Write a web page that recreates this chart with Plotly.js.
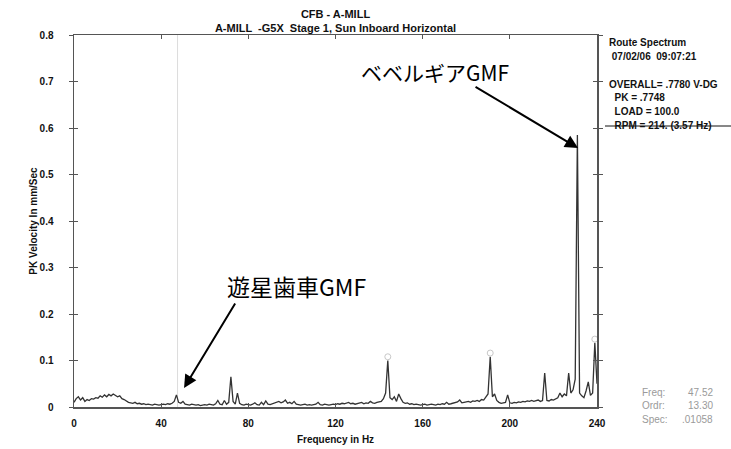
<!DOCTYPE html>
<html><head><meta charset="utf-8">
<script src="https://cdn.plot.ly/plotly-3.0.1.min.js"></script>
<style>html,body{margin:0;padding:0;background:#fff}#chart{width:731px;height:449px}</style>
</head><body><div id="chart"></div>
<script>
// Frequency (Hz) and PK velocity (mm/Sec)
const freqStart = 0, freqStep = 1;
const velocity = [
0.010,0.018,0.022,0.015,0.020,0.012,0.016,0.014,0.018,0.017,
0.020,0.019,0.024,0.021,0.026,0.022,0.027,0.024,0.028,0.025,
0.022,0.024,0.018,0.016,0.012,0.010,0.009,0.008,0.010,0.007,
0.008,0.006,0.007,0.005,0.006,0.005,0.004,0.006,0.005,0.004,
0.005,0.006,0.005,0.007,0.006,0.008,0.012,0.026,0.010,0.008,
0.012,0.006,0.005,0.004,0.006,0.005,0.004,0.005,0.003,0.004,
0.005,0.004,0.006,0.005,0.004,0.007,0.014,0.006,0.005,0.014,
0.006,0.010,0.065,0.012,0.006,0.030,0.008,0.005,0.004,0.006,
0.005,0.004,0.006,0.009,0.005,0.004,0.010,0.005,0.013,0.006,
0.005,0.007,0.008,0.010,0.012,0.009,0.011,0.015,0.008,0.010,
0.007,0.012,0.006,0.005,0.004,0.005,0.006,0.004,0.005,0.004,
0.005,0.006,0.010,0.005,0.004,0.006,0.005,0.004,0.005,0.006,
0.005,0.007,0.006,0.008,0.007,0.009,0.010,0.007,0.008,0.006,
0.007,0.008,0.010,0.007,0.009,0.008,0.012,0.009,0.008,0.010,
0.011,0.012,0.018,0.030,0.100,0.020,0.016,0.022,0.012,0.028,
0.018,0.010,0.008,0.009,0.006,0.007,0.005,0.006,0.005,0.004,
0.005,0.006,0.004,0.005,0.006,0.005,0.004,0.006,0.005,0.007,
0.006,0.010,0.006,0.007,0.008,0.009,0.011,0.015,0.009,0.010,
0.011,0.012,0.010,0.013,0.012,0.014,0.012,0.016,0.015,0.022,
0.028,0.108,0.022,0.028,0.014,0.010,0.008,0.009,0.010,0.026,
0.009,0.008,0.010,0.009,0.011,0.010,0.012,0.011,0.013,0.012,
0.014,0.012,0.013,0.015,0.012,0.014,0.073,0.014,0.013,0.016,
0.015,0.018,0.020,0.030,0.022,0.028,0.024,0.073,0.030,0.037,
0.060,0.585,0.030,0.024,0.020,0.035,0.054,0.025,0.030,0.138,
0.050];
const freq = velocity.map((_, i) => freqStart + i * freqStep);

// Marked peaks (small circles)
const markFreq = [144, 191, 239];
const markVel = [0.100, 0.108, 0.138];

const cursorFreq = 47.52;
const xTicks = [0, 40, 80, 120, 160, 200, 240];
const yTicks = [0, 0.1, 0.2, 0.3, 0.4, 0.5, 0.6, 0.7, 0.8];

const infoLines = ["Route Spectrum", " 07/02/06  09:07:21", "", "OVERALL= .7780 V-DG", "  PK = .7748", "  LOAD = 100.0", "  RPM = 214. (3.57 Hz)"];
const cursorLabels = ["Freq:", "Ordr:", "Spec:"];
const cursorValues = ["47.52", "13.30", ".01058"];

const narrow = "Liberation Sans Narrow, Liberation Sans, Arial, sans-serif";
const sans = "Liberation Sans, Arial, sans-serif";
const jp = "Noto Sans CJK JP, sans-serif";

const L = 74, R = 597, T = 35, B = 407, W = 731, H = 449;
function px2paper(px, py) { return {x: (px - L) / (R - L), y: (B - py) / (B - T)}; }

const traces = [
  {x: freq, y: velocity, type: 'scatter', mode: 'lines',
   line: {color: '#333', width: 1.3}, hoverinfo: 'skip'},
  {x: markFreq, y: markVel.map(v => v + 0.008), type: 'scatter', mode: 'markers',
   marker: {symbol: 'circle-open', size: 6, color: '#c8c8c8', line: {width: 1}}, hoverinfo: 'skip'},
  {x: freq, y: velocity, yaxis: 'y2', type: 'scatter', mode: 'lines',
   line: {color: 'rgba(0,0,0,0)', width: 0}, hoverinfo: 'skip'}
];

const annotations = [];
const infoY = [43, 57, 70, 84, 98, 111, 125];
infoLines.forEach((t, i) => {
  if (!t) return;
  const p = px2paper(607, infoY[i]);
  annotations.push({xref: 'paper', yref: 'paper', x: p.x, y: p.y, xanchor: 'left', yanchor: 'middle',
    text: t.replace(/ /g, '&nbsp;'), showarrow: false, font: {family: sans, size: 10, color: '#111', weight: 'bold'}});
});
const cyc = [392, 405, 419];
cursorLabels.forEach((t, i) => {
  let p = px2paper(640, cyc[i]);
  annotations.push({xref: 'paper', yref: 'paper', x: p.x, y: p.y, xanchor: 'left', yanchor: 'middle', text: t, showarrow: false,
    font: {family: sans, size: 10, color: '#9a9a9a'}});
  p = px2paper(715, cyc[i]);
  annotations.push({xref: 'paper', yref: 'paper', x: p.x, y: p.y, xanchor: 'right', yanchor: 'middle', text: cursorValues[i], showarrow: false,
    font: {family: sans, size: 10, color: '#9a9a9a'}});
});

// Japanese labels and arrows
let p = px2paper(435, 72);
annotations.push({xref: 'paper', yref: 'paper', x: p.x, y: p.y, xanchor: 'center', yanchor: 'middle', text: 'ベベルギアGMF', showarrow: false,
  font: {family: jp, size: 21, color: '#000'}});
annotations.push({x: 231.3, y: 0.557, xref: 'x', yref: 'y', text: '', showarrow: true, ax: -104, ay: -62,
  arrowhead: 2, arrowsize: 1.3, arrowwidth: 2, arrowcolor: '#000', standoff: 0});
p = px2paper(297, 286);
annotations.push({xref: 'paper', yref: 'paper', x: p.x, y: p.y, xanchor: 'center', yanchor: 'middle', text: '遊星歯車GMF', showarrow: false,
  font: {family: jp, size: 23, color: '#000'}});
annotations.push({x: 50.5, y: 0.041, xref: 'x', yref: 'y', text: '', showarrow: true, ax: 52, ay: -86,
  arrowhead: 2, arrowsize: 1.3, arrowwidth: 2, arrowcolor: '#000', standoff: 0});

const layout = {
  width: W, height: H,
  margin: {l: L, r: W - R, t: T, b: H - B},
  paper_bgcolor: '#fff', plot_bgcolor: '#fff',
  showlegend: false,
  title: {text: 'CFB - A-MILL<br>A-MILL  -G5X  Stage 1, Sun Inboard Horizontal', x: (L + R) / 2 / W, xanchor: 'center',
    y: 1 - 18/449, yanchor: 'middle', font: {family: narrow, size: 11, color: '#111', weight: 'bold'}},
  xaxis: {range: [0, 240], tickvals: xTicks, ticktext: xTicks.map(String), showgrid: false, zeroline: false,
    showline: true, linecolor: '#555', linewidth: 1.5, mirror: 'ticks', ticks: 'inside', ticklen: 4, tickcolor: '#555',
    ticklabelstandoff: 6,
    tickfont: {family: narrow, size: 10, color: '#111', weight: 'bold'},
    title: {text: 'Frequency in Hz', standoff: 8, font: {family: narrow, size: 10, color: '#111', weight: 'bold'}}},
  yaxis: {range: [0, 0.8], tickvals: yTicks, ticktext: yTicks.map(v => v === 0 ? '0' : v.toFixed(1)), showgrid: false, zeroline: false,
    showline: true, linecolor: '#555', linewidth: 1.5, mirror: 'ticks', ticks: 'outside', ticklen: 4, tickcolor: '#555',
    ticklabelstandoff: 13,
    tickfont: {family: narrow, size: 10, color: '#111', weight: 'bold'},
    title: {text: 'PK Velocity In mm/Sec', standoff: 0, font: {family: narrow, size: 10, color: '#111', weight: 'bold'}}},
  yaxis2: {range: [0, 0.8], overlaying: 'y', side: 'left', tickvals: yTicks, showticklabels: false, showgrid: false, zeroline: false,
    showline: false, mirror: 'ticks', ticks: 'inside', ticklen: 4, tickcolor: '#555'},
  shapes: [
    {type: 'line', xref: 'x', yref: 'paper', x0: cursorFreq, x1: cursorFreq, y0: 0, y1: 1, line: {color: '#dcdcdc', width: 1}, layer: 'below'},
    {type: 'line', xref: 'paper', yref: 'paper', x0: px2paper(605, 0).x, x1: px2paper(731, 0).x, y0: px2paper(0, 126).y, y1: px2paper(0, 126).y, line: {color: '#111', width: 1}}
  ],
  annotations: annotations
};

Plotly.newPlot('chart', traces, layout, {staticPlot: true, displayModeBar: false});
</script>
</body></html>
